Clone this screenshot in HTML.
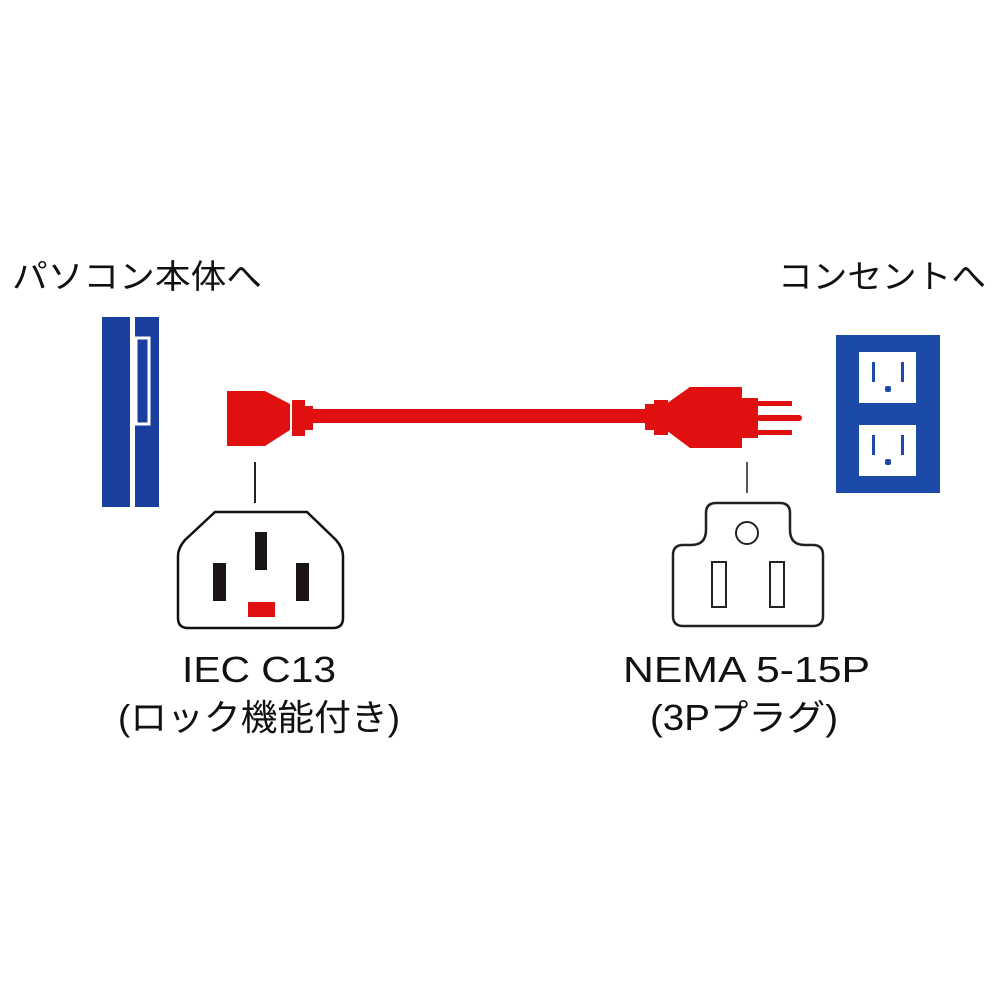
<!DOCTYPE html>
<html><head><meta charset="utf-8"><style>html,body{margin:0;padding:0;background:#fff}svg{display:block}</style></head>
<body>
<svg width="1000" height="1000" viewBox="0 0 1000 1000" xmlns="http://www.w3.org/2000/svg" font-family="'Liberation Sans','Noto Sans CJK JP',sans-serif">
<rect width="1000" height="1000" fill="#fff"/>
<!-- top labels -->
<text x="12" y="288" font-size="33" fill="#111" textLength="250" lengthAdjust="spacingAndGlyphs">パソコン本体へ</text>
<text x="778" y="288" font-size="33" fill="#111" textLength="208" lengthAdjust="spacingAndGlyphs">コンセントへ</text>
<!-- PC -->
<rect x="102" y="317" width="28" height="190" fill="#1b3f9e"/>
<rect x="135" y="317" width="24" height="190" fill="#1b3f9e"/>
<rect x="136" y="338" width="13" height="86" fill="none" stroke="#fff" stroke-width="3"/>
<!-- red cable -->
<rect x="300" y="409" width="350" height="14" fill="#e01010"/>
<path d="M227 391 H265 L290 404 V430 L265 446 H227 Z" fill="#e01010"/>
<rect x="292" y="400" width="13" height="36" fill="#e01010"/>
<rect x="303" y="406" width="10" height="24" fill="#e01010"/>
<rect x="645" y="404" width="10" height="26" fill="#e01010"/>
<rect x="654" y="400" width="14" height="35" fill="#e01010"/>
<path d="M666 404 L690 387 H742 V448 H690 L666 430 Z" fill="#e01010"/>
<rect x="740" y="398" width="18" height="40" fill="#e01010"/>
<rect x="756" y="401" width="36" height="5" fill="#e01010"/>
<rect x="756" y="415" width="46" height="6" rx="3" fill="#e01010"/>
<rect x="756" y="430" width="36" height="5" fill="#e01010"/>
<!-- outlet -->
<rect x="836" y="335" width="104" height="158" fill="#1b4aa8"/>
<rect x="859" y="352" width="57" height="51" fill="#fff"/>
<rect x="859" y="425" width="57" height="51" fill="#fff"/>
<g fill="#1b4aa8">
<rect x="872" y="362" width="3" height="20"/><rect x="901" y="362" width="3" height="20"/><rect x="885" y="386" width="6" height="6" rx="2"/>
<rect x="872" y="435" width="3" height="20"/><rect x="901" y="435" width="3" height="20"/><rect x="885" y="459" width="6" height="6" rx="2"/>
</g>
<!-- leader lines -->
<line x1="255" y1="462" x2="255" y2="503" stroke="#222" stroke-width="2"/>
<line x1="747" y1="462" x2="747" y2="493" stroke="#555" stroke-width="2"/>
<!-- C13 -->
<path d="M215 512 H307 L336 540 Q343 548 343 556 V618 Q343 628 333 628 H188 Q178 628 178 618 V556 Q178 548 185 540 Z" fill="#fff" stroke="#111" stroke-width="2.5"/>
<rect x="255" y="532" width="12" height="38" fill="#1a1414"/>
<rect x="213" y="563" width="13" height="38" fill="#1a1414"/>
<rect x="296" y="563" width="13" height="38" fill="#1a1414"/>
<rect x="248" y="602" width="27" height="15" fill="#e01010"/>
<!-- NEMA -->
<path d="M716 503 H780 Q790 503 790 513 V530 Q790 545 805 545 H813 Q823 545 823 555 V616 Q823 626 813 626 H683 Q673 626 673 616 V555 Q673 545 683 545 H691 Q706 545 706 530 V513 Q706 503 716 503 Z" fill="#fff" stroke="#222" stroke-width="2.5"/>
<circle cx="747" cy="533" r="11" fill="#fff" stroke="#222" stroke-width="2"/>
<rect x="712" y="562" width="14" height="45" fill="#fff" stroke="#222" stroke-width="2"/>
<rect x="770" y="562" width="14" height="45" fill="#fff" stroke="#222" stroke-width="2"/>
<!-- bottom labels -->
<text x="182" y="682" font-size="36" fill="#111" textLength="154" lengthAdjust="spacingAndGlyphs">IEC C13</text>
<text x="118" y="730" font-size="36" fill="#111" textLength="282" lengthAdjust="spacingAndGlyphs">(ロック機能付き)</text>
<text x="623" y="682" font-size="36" fill="#111" textLength="247" lengthAdjust="spacingAndGlyphs">NEMA 5-15P</text>
<text x="650" y="730" font-size="36" fill="#111" textLength="188" lengthAdjust="spacingAndGlyphs">(3Pプラグ)</text>
</svg>
</body></html>
